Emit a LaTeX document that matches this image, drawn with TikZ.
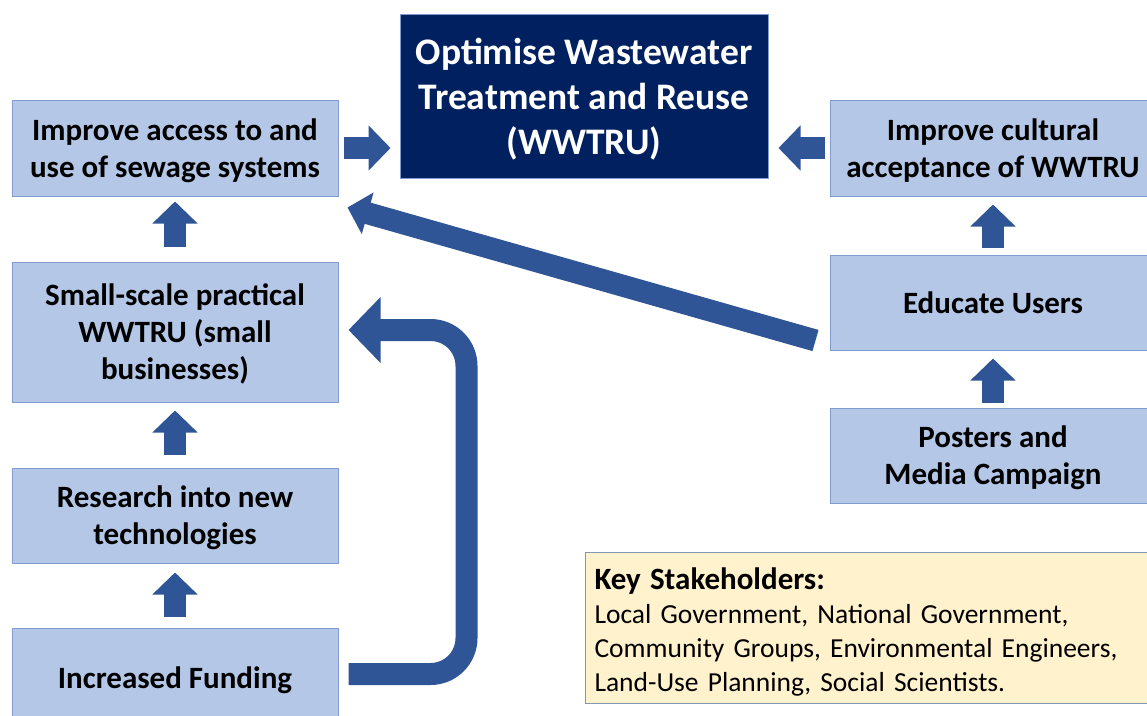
\documentclass[tikz,border=0pt]{standalone}
\usepackage{fontspec}
\setmainfont{Carlito}
\usetikzlibrary{arrows.meta}
\definecolor{boxblue}{HTML}{B4C7E7}
\definecolor{boxedge}{HTML}{7F9BCF}
\definecolor{navy}{HTML}{002060}
\definecolor{arrowblue}{HTML}{2F5597}
\definecolor{keyfill}{HTML}{FFF2CC}
\definecolor{keyedge}{HTML}{8497B0}
\begin{document}
\begin{tikzpicture}[x=1pt, y=-1pt,
    goalbox/.style={draw=boxedge, fill=boxblue, line width=1pt, minimum width=326pt,
        align=center, inner sep=0pt, text depth=-1.5pt, font=\fontsize{31}{37}\selectfont\bfseries},
    blockarrow/.style={arrowblue, line width=22pt, -{Triangle[width=44pt, length=22pt]}}
]
    \useasboundingbox (0,0) rectangle (1147,715);

    % Goal
    \node[draw=boxedge, fill=navy, text=white, line width=1pt, minimum width=368pt, minimum height=164pt,
        align=center, text depth=-2pt, font=\fontsize{37.5}{45}\selectfont\bfseries] (goal) at (584,96)
        {Optimise Wastewater\\Treatment and Reuse\\(WWTRU)};

    % Left column
    \node[goalbox, minimum height=96pt] (access) at (175,148) {Improve access to and\\use of sewage systems};
    \node[goalbox, minimum height=140pt] (smallscale) at (175,332) {Small-scale practical\\WWTRU (small\\businesses)};
    \node[goalbox, minimum height=95pt] (research) at (175,515.5) {Research into new\\technologies};
    \node[goalbox, minimum height=100pt] (funding) at (175,678) {Increased Funding};

    % Right column
    \node[goalbox, minimum height=96pt] (culture) at (993,148) {Improve cultural\\acceptance of WWTRU};
    \node[goalbox, minimum height=95pt] (educate) at (993,302.5) {Educate Users};
    \node[goalbox, minimum height=95pt] (posters) at (993,455.5) {Posters and\\Media Campaign};

    % Stakeholders
    \node[draw=keyedge, fill=keyfill, line width=1pt, anchor=north west, minimum height=151pt,
        text width=580pt, inner xsep=9pt, align=left, font=\fontsize{27.5}{34}\selectfont,
        execute at begin node={\rule{0pt}{30pt}}] (key) at (585,552)
        {{\bfseries\fontsize{31}{34}\selectfont Key Stakeholders:}\\
         Local Government, National Government,\\
         Community Groups, Environmental Engineers,\\
         Land-Use Planning, Social Scientists.};

    % Arrows into the goal
    \draw[blockarrow, shorten <=5pt, shorten >=9pt] (access.east) -- (access.east -| goal.west);
    \draw[blockarrow, shorten <=5pt, shorten >=10pt] (culture.west) -- (culture.west -| goal.east);

    % Upward arrows
    \foreach \from/\to/\tail/\head in {smallscale/access/15/5, research/smallscale/13/8,
        funding/research/11/9, educate/culture/7/8, posters/educate/5/8}
        \draw[blockarrow, shorten <=\tail pt, shorten >=\head pt] (\from.north) -- (\to.south);

    % Educate users feeds sewage access
    \draw[blockarrow, -{Triangle[width=42pt, length=21pt]}]
        ([shift={(-14pt,10pt)}]educate.south west) -- ([shift={(9pt,-11pt)}]access.south east);

    % Funding loops back to small businesses
    \draw[blockarrow, -{Triangle[width=64pt, length=32pt]}, rounded corners=36pt]
        ([shift={(10pt,4pt)}]funding.east) -| ([shift={(128pt,2pt)}]smallscale.east)
        -- ([shift={(10pt,2pt)}]smallscale.east);
\end{tikzpicture}
\end{document}
